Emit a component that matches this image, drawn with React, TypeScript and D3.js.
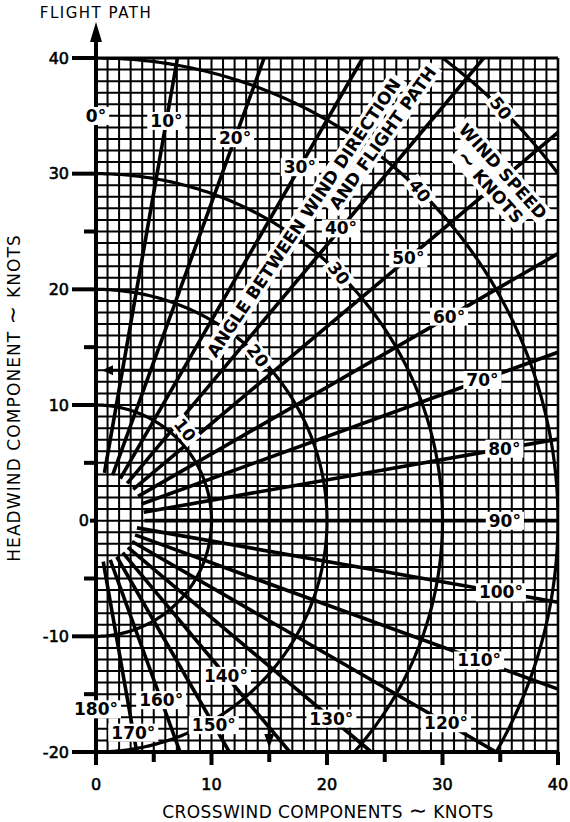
import { useEffect, useRef } from 'react';
import * as d3 from 'd3';

// angle between wind direction and flight path, with the radius (knots) where each label sits
const angleDeg = [0, 10, 20, 30, 40, 50, 60, 70, 80, 90, 100, 110, 120, 130, 140, 150, 160, 170, 180];
const angleLabelR = [35, 35.1, 35.2, 35.3, 33, 35.3, 35.3, 35.6, 35.9, 35.4, 35.6, 35.3, 35, 26.6, 17.5, 20.4, 16.5, 18.6, 16.3];

// wind speed arcs
const windSpeeds = [10, 20, 30, 40, 50];
const speedLabelR = [11, 20, 30, 40, 50];
const speedLabelAngle = 44.5;

const xTicks = [0, 10, 20, 30, 40];
const yTicks = [-20, -10, 0, 10, 20, 30, 40];
const xMinorTicks = [5, 15, 25, 35];
const yMinorTicks = [-15, -5, 5, 15, 25, 35];

// worked example: 20 kt at 50 deg
const exampleCross = 15;
const exampleHead = 13;

const notes = [
  { text: 'ANGLE BETWEEN WIND DIRECTION', x: 17.97, y: 26.2, rot: -56 },
  { text: 'AND FLIGHT PATH', x: 24.8, y: 33.1, rot: -54.5 },
  { text: 'WIND SPEED', x: 35.24, y: 30.2, rot: 48 },
  { text: '\u223C KNOTS', x: 34.1, y: 28.85, rot: 48 },
];

const FONT = '"DejaVu Sans", "Liberation Sans", Arial, sans-serif';

// writes text, with the swung dash drawn a bit larger as in the original
function fillText(t: d3.Selection<SVGTextElement, unknown, null, undefined>, txt: string, big: number) {
  const parts = txt.split('\u223C');
  parts.forEach((p, i) => {
    if (i > 0) t.append('tspan').style('font-size', `${big}px`).text('\u223C');
    if (p) t.append('tspan').text(p);
  });
}

export default function App() {
  const ref = useRef<SVGSVGElement>(null);

  useEffect(() => {
    const svg = d3.select(ref.current);
    svg.selectAll('*').remove();

    const x = d3.scaleLinear().domain([0, 40]).range([96, 558]);
    const y = d3.scaleLinear().domain([-20, 40]).range([752, 58]);
    const rad = (d: number) => (d * Math.PI) / 180;
    const px = (r: number, a: number) => x(r * Math.sin(rad(a)));
    const py = (r: number, a: number) => y(r * Math.cos(rad(a)));

    svg
      .append('defs')
      .append('clipPath')
      .attr('id', 'plot')
      .append('rect')
      .attr('x', x(0))
      .attr('y', y(40))
      .attr('width', x(40) - x(0))
      .attr('height', y(-20) - y(40));

    // fine 1-knot grid
    const grid = svg.append('g').attr('stroke', '#000').attr('stroke-width', 2);
    grid
      .selectAll('line.v')
      .data(d3.range(0, 41))
      .join('line')
      .attr('x1', d => x(d))
      .attr('x2', d => x(d))
      .attr('y1', y(-20))
      .attr('y2', y(40));
    grid
      .selectAll('line.h')
      .data(d3.range(-20, 41))
      .join('line')
      .attr('y1', d => y(d))
      .attr('y2', d => y(d))
      .attr('x1', x(0))
      .attr('x2', x(40));

    const plot = svg.append('g').attr('clip-path', 'url(#plot)');

    // wind speed arcs
    const sweep = d3.range(0, 180.5, 0.5);
    windSpeeds.forEach(r => {
      const line = d3
        .line<number>()
        .x(a => px(r, a))
        .y(a => py(r, a));
      plot
        .append('path')
        .attr('d', line(sweep))
        .attr('fill', 'none')
        .attr('stroke', '#000')
        .attr('stroke-width', 3.2);
    });

    // radial angle lines
    const reach = (a: number) => {
      const s = Math.sin(rad(a));
      const c = Math.cos(rad(a));
      let t = Infinity;
      if (s > 1e-6) t = Math.min(t, 40 / s);
      if (c > 1e-6) t = Math.min(t, 40 / c);
      if (c < -1e-6) t = Math.min(t, 20 / -c);
      return t;
    };
    plot
      .selectAll('line.ray')
      .data(angleDeg)
      .join('line')
      .attr('x1', a => px(a > 90 ? 3.6 : 4.2, a))
      .attr('y1', a => py(a > 90 ? 3.6 : 4.2, a))
      .attr('x2', a => px(reach(a), a))
      .attr('y2', a => py(reach(a), a))
      .attr('stroke', '#000')
      .attr('stroke-width', 3.6);

    // frame
    const frame = svg.append('g').attr('stroke', '#000');
    frame
      .append('line')
      .attr('x1', x(0))
      .attr('x2', x(0))
      .attr('y1', y(-20) + 2)
      .attr('y2', 32)
      .attr('stroke-width', 4);
    frame
      .append('path')
      .attr('d', `M${x(0)},22 L${x(0) - 6},42 L${x(0) + 6},42 Z`)
      .attr('fill', '#000')
      .attr('stroke', 'none');
    frame
      .append('line')
      .attr('x1', x(0) - 2)
      .attr('x2', x(40) + 1)
      .attr('y1', y(-20))
      .attr('y2', y(-20))
      .attr('stroke-width', 4);
    frame
      .append('line')
      .attr('x1', x(0))
      .attr('x2', x(40))
      .attr('y1', y(40))
      .attr('y2', y(40))
      .attr('stroke-width', 3);
    frame
      .append('line')
      .attr('x1', x(40))
      .attr('x2', x(40))
      .attr('y1', y(40))
      .attr('y2', y(-20))
      .attr('stroke-width', 2.6);

    // ticks
    const ticks = svg.append('g').attr('stroke', '#000').attr('stroke-width', 4);
    ticks
      .selectAll('line.ym')
      .data(yTicks)
      .join('line')
      .attr('x1', d => (d === 0 ? x(0) - 6 : x(0) - 24))
      .attr('x2', x(0))
      .attr('y1', d => y(d))
      .attr('y2', d => y(d));
    ticks
      .selectAll('line.yn')
      .data(yMinorTicks)
      .join('line')
      .attr('x1', x(0) - 12)
      .attr('x2', x(0))
      .attr('y1', d => y(d))
      .attr('y2', d => y(d));
    ticks
      .selectAll('line.xm')
      .data(xTicks)
      .join('line')
      .attr('x1', d => x(d))
      .attr('x2', d => x(d))
      .attr('y1', y(-20))
      .attr('y2', y(-20) + 13);
    ticks
      .selectAll('line.xn')
      .data(xMinorTicks)
      .join('line')
      .attr('x1', d => x(d))
      .attr('x2', d => x(d))
      .attr('y1', y(-20))
      .attr('y2', y(-20) + 10);

    const tickText = svg
      .append('g')
      .style('font-family', FONT)
      .style('font-size', '16px')
      .attr('fill', '#000')
      .attr('stroke', '#000')
      .attr('stroke-width', 0.6);
    tickText
      .selectAll('text.y')
      .data(yTicks)
      .join('text')
      .attr('x', d => (d === 0 ? x(0) - 7 : x(0) - 27))
      .attr('y', d => y(d))
      .attr('dy', '0.36em')
      .attr('text-anchor', 'end')
      .text(d => d);
    tickText
      .selectAll('text.x')
      .data(xTicks)
      .join('text')
      .attr('x', d => x(d))
      .attr('y', y(-20) + 32)
      .attr('dy', '0.36em')
      .attr('text-anchor', 'middle')
      .text(d => d);

    // worked example arrows
    const ex = svg.append('g').attr('stroke', '#000').attr('fill', '#000');
    ex.append('line')
      .attr('x1', x(exampleCross))
      .attr('x2', x(0) + 12)
      .attr('y1', y(exampleHead))
      .attr('y2', y(exampleHead))
      .attr('stroke-width', 3);
    ex.append('path')
      .attr('d', `M${x(0) + 6},${y(exampleHead)} l11,-5 l0,10 Z`)
      .attr('stroke', 'none');
    ex.append('line')
      .attr('x1', x(exampleCross))
      .attr('x2', x(exampleCross))
      .attr('y1', y(exampleHead))
      .attr('y2', y(-20) - 12)
      .attr('stroke-width', 3);
    ex.append('path')
      .attr('d', `M${x(exampleCross)},${y(-20) - 4} l-5,-14 l10,0 Z`)
      .attr('stroke', 'none');

    // labels with white backgrounds
    const labels = svg.append('g').style('font-family', FONT).style('font-weight', 'bold');
    const addLabel = (
      txt: string,
      cx: number,
      cy: number,
      rot: number,
      size: number,
      padX: number,
      padY: number
    ) => {
      const g = labels.append('g').attr('transform', `translate(${cx},${cy}) rotate(${rot})`);
      const box = g.append('rect').attr('fill', '#fff');
      const t = g
        .append('text')
        .attr('text-anchor', 'middle')
        .attr('dy', '0.36em')
        .style('font-size', `${size}px`)
        .attr('fill', '#000');
      fillText(t, txt, size + 5);
      const b = (t.node() as SVGTextElement).getBBox();
      box
        .attr('x', b.x - padX)
        .attr('y', b.y - padY)
        .attr('width', b.width + padX * 2)
        .attr('height', b.height + padY * 2);
    };

    notes.forEach(n => addLabel(n.text, x(n.x), y(n.y), n.rot, 17, 4, 0));
    angleDeg.forEach((a, i) =>
      addLabel(`${a}\u00B0`, px(angleLabelR[i], a), py(angleLabelR[i], a), 0, 17, 3, -1)
    );
    windSpeeds.forEach((s, i) =>
      addLabel(`${s}`, px(speedLabelR[i], speedLabelAngle), py(speedLabelR[i], speedLabelAngle), 52, 17, 3, -1)
    );

    // axis titles
    const titles = svg.append('g').style('font-family', FONT).attr('fill', '#000');
    const xTitle = titles
      .append('text')
      .attr('x', (x(0) + x(40)) / 2 + 1)
      .attr('y', 818)
      .attr('text-anchor', 'middle')
      .style('font-size', '17px')
      .style('letter-spacing', '0.4px');
    fillText(xTitle, 'CROSSWIND COMPONENTS \u223C KNOTS', 22);
    const yTitle = titles
      .append('text')
      .attr('transform', `translate(20, ${y(10) - 7}) rotate(-90)`)
      .attr('text-anchor', 'middle')
      .style('font-size', '17px')
      .style('letter-spacing', '1.1px');
    fillText(yTitle, 'HEADWIND COMPONENT \u223C KNOTS', 22);
    titles
      .append('text')
      .attr('x', x(0))
      .attr('y', 18)
      .attr('text-anchor', 'middle')
      .style('font-size', '15px')
      .style('letter-spacing', '1.5px')
      .text('FLIGHT PATH');
  }, []);

  return (
    <svg
      ref={ref}
      width={570}
      height={822}
      style={{ position: 'absolute', left: 0, top: 0, background: '#fff' }}
    />
  );
}
